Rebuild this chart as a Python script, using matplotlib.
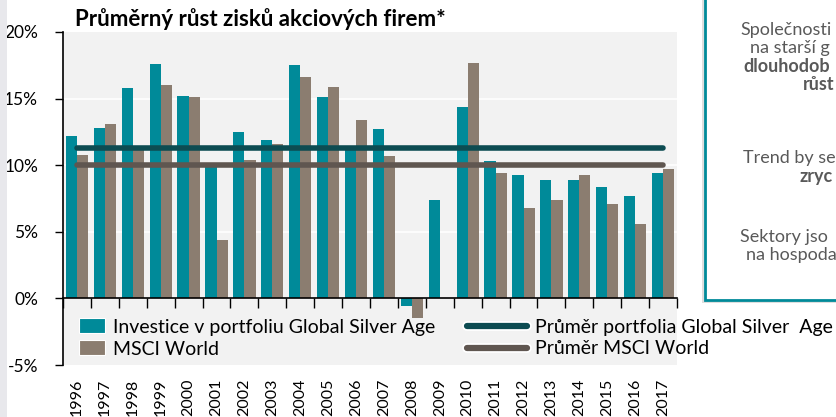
import matplotlib
matplotlib.use('Agg')
import matplotlib.pyplot as plt
from matplotlib.patches import Rectangle, Patch
from matplotlib.lines import Line2D
import matplotlib.patheffects as pe
import numpy as np

# Data
years = [str(y) for y in range(1996, 2018)]
silver_age = [12.2, 12.8, 15.8, 17.6, 15.2, 9.9, 12.5, 11.9, 17.5, 15.1, 11.4, 12.7,
              -0.6, 7.4, 14.4, 10.3, 9.3, 8.9, 8.9, 8.4, 7.7, 9.4]
msci_world = [10.8, 13.1, 11.2, 16.0, 15.1, 4.4, 10.4, 11.6, 16.6, 15.9, 13.4, 10.7,
              -1.5, 0.0, 17.7, 9.4, 6.8, 7.4, 9.3, 7.1, 5.6, 9.7]
avg_silver = 11.3
avg_msci = 10.0
yticks = [-5, 0, 5, 10, 15, 20]

box_lines = [("Společnosti", 'normal'), ("na starší g", 'normal'), ("dlouhodob", 'bold'),
             ("růst", 'bold'), ("Trend by se", 'normal'), ("zryc", 'bold'),
             ("Sektory jso", 'normal'), ("na hospoda", 'normal')]

teal = '#008a99'
taupe = '#8b7d70'
dark_teal = '#0d4c52'
dark_taupe = '#5f5650'

plt.rcParams['font.family'] = ['Lato', 'DejaVu Sans']

W, H = 836, 417
fig = plt.figure(figsize=(W / 100, H / 100), dpi=100)

def fx(px):
    return px / W

def fy(py):
    return 1 - py / H

# left gray strip
fig.patches.append(Rectangle((0, 0), fx(7), 1, transform=fig.transFigure,
                             facecolor='#e8e8ec', edgecolor='none', zorder=0))

ax = fig.add_axes([fx(63), fy(365), fx(677) - fx(63), fy(32) - fy(365)])
ax.set_facecolor('#f2f2f2')

x = np.arange(len(years))
w = 0.4
ax.bar(x - w / 2, silver_age, w, color=teal, zorder=3, label='Investice v portfoliu Global Silver Age')
ax.bar(x + w / 2, msci_world, w, color=taupe, zorder=3, label='MSCI World')
ax.plot(x, [avg_silver] * len(x), color=dark_teal, lw=4, solid_capstyle='round', zorder=4)
ax.plot(x, [avg_msci] * len(x), color=dark_taupe, lw=4, solid_capstyle='round', zorder=4)

ax.set_xlim(-0.5, len(years) - 0.5)
ax.set_ylim(-5, 20)
ax.set_yticks(yticks)
ax.set_yticklabels([f'{v}%' for v in yticks], fontsize=12.5)
ax.tick_params(axis='y', direction='out', length=6, width=1, pad=12)
for v in [5, 10, 15]:
    ax.axhline(v, color='white', lw=1.2, zorder=1)

for s in ['top', 'right']:
    ax.spines[s].set_visible(False)
ax.spines['left'].set_linewidth(1.2)
ax.spines['bottom'].set_position(('data', 0))
ax.spines['bottom'].set_linewidth(1.2)
ax.spines['bottom'].set_zorder(5)
ax.set_xticks(np.arange(len(years) + 1) - 0.5)
ax.set_xticklabels([])
ax.tick_params(axis='x', direction='out', length=7, width=1)

sec = ax.secondary_xaxis(0)
sec.set_xticks(x)
sec.set_xticklabels(years, rotation=90, fontsize=11.5, va='top')
sec.tick_params(length=0, pad=10)
sec.spines['bottom'].set_visible(False)

# title
fig.text(fx(75), fy(26), 'Průměrný růst zisků akciových firem*', fontsize=16,
         fontweight='bold', ha='left', va='baseline')

# legends
h1 = [Patch(facecolor=teal, edgecolor='white', lw=0.8),
      Patch(facecolor=taupe, edgecolor='white', lw=0.8)]
leg1 = fig.legend(h1, ['Investice v portfoliu Global Silver Age', 'MSCI World'],
                  loc='center left', bbox_to_anchor=(fx(79), fy(338)), frameon=False,
                  fontsize=14, borderpad=0, borderaxespad=0, handlelength=1.35,
                  handleheight=0.8, handletextpad=0.4, labelspacing=0.25)
stroke = [pe.Stroke(linewidth=7, foreground='white'), pe.Normal()]
h2 = [Line2D([0], [0], color=dark_teal, lw=4.5, solid_capstyle='round', path_effects=stroke),
      Line2D([0], [0], color=dark_taupe, lw=4.5, solid_capstyle='round', path_effects=stroke)]
leg2 = fig.legend(h2, ['Průměr portfolia Global Silver  Age', 'Průměr MSCI World'],
                  loc='center left', bbox_to_anchor=(fx(467), fy(338)), frameon=False,
                  fontsize=14, borderpad=0, borderaxespad=0, handlelength=3.1,
                  handletextpad=0.4, labelspacing=0.25)

# text box on the right
fig.patches.append(Rectangle((fx(702), fy(303)), fx(200), fy(-20) - fy(303),
                             transform=fig.transFigure, facecolor='#c8c8c8',
                             edgecolor='none', alpha=0.6, zorder=1))
fig.patches.append(Rectangle((fx(705), fy(300)), fx(200), fy(-20) - fy(300),
                             transform=fig.transFigure, facecolor='white',
                             edgecolor=teal, lw=2, zorder=2))
box_pos = [(740, 30), (750, 48), (743, 66), (803, 84), (743, 158), (800, 176),
           (740, 237), (746, 255)]
for (txt, wt), (px, py) in zip(box_lines, box_pos):
    fig.text(fx(px), fy(py), txt, fontsize=13, fontweight=wt, color='#595959',
             ha='left', va='center', zorder=3)

fig.savefig('out.png', dpi=100)
